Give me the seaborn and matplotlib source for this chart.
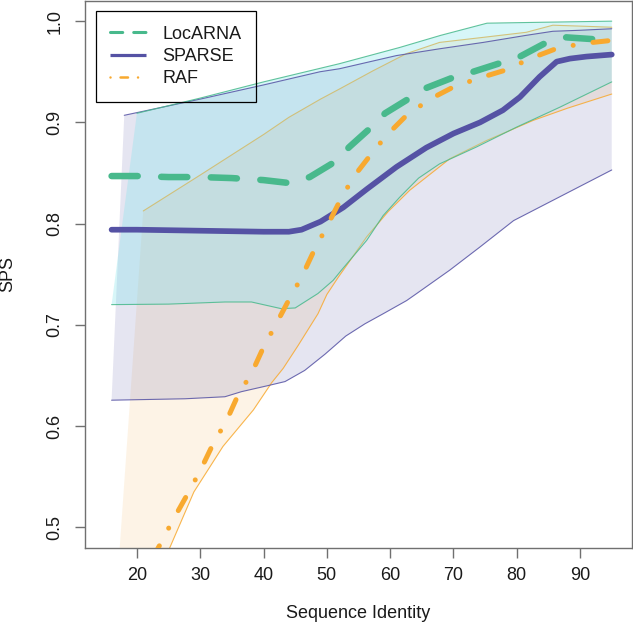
import numpy as np
import pandas as pd
import matplotlib
matplotlib.use("Agg")
import matplotlib.pyplot as plt
import seaborn as sns
from matplotlib.lines import Line2D

# ---------------- data ----------------
methods = ["LocARNA", "SPARSE", "RAF"]

# mean curves
locarna_x = [16, 20, 25, 30, 35, 40, 44.2, 47.3, 51, 53.6, 56.8, 59.2, 63.1, 65.7,
             70.2, 73.1, 77.6, 80.5, 84.7, 87.8, 92.6, 95]
locarna_y = [0.847, 0.847, 0.846, 0.846, 0.845, 0.843, 0.840, 0.846, 0.860, 0.876,
             0.894, 0.909, 0.924, 0.934, 0.945, 0.950, 0.959, 0.965, 0.979, 0.984,
             0.982, 0.982]

sparse_x = [16, 20, 25, 30, 35, 40, 44, 46, 49, 52.6, 56.3, 61, 65.7, 70, 74.2, 77.8,
            80.5, 83.6, 86.3, 88.4, 91, 95]
sparse_y = [0.794, 0.794, 0.7935, 0.793, 0.7925, 0.792, 0.792, 0.794, 0.802, 0.816,
            0.834, 0.856, 0.875, 0.889, 0.900, 0.912, 0.925, 0.945, 0.960, 0.963,
            0.965, 0.967]

raf_x = [16, 20, 24, 25.5, 28.1, 30, 32, 34.2, 36, 38.1, 40, 42, 44.2, 46, 48.1, 50,
         52.1, 54.2, 56.8, 59.4, 62.6, 66.3, 70, 74.2, 78.4, 82.1, 86.3, 90.5, 95]
raf_y = [0.395, 0.441, 0.487, 0.505, 0.534, 0.556, 0.582, 0.606, 0.631, 0.652, 0.678,
         0.701, 0.727, 0.747, 0.775, 0.797, 0.823, 0.846, 0.867, 0.887, 0.907, 0.923,
         0.935, 0.944, 0.952, 0.963, 0.973, 0.978, 0.981]

# band limits
locarna_up_x = [20, 30, 40, 52, 61.5, 68, 75.3, 85, 95]
locarna_up_y = [0.909, 0.924, 0.940, 0.958, 0.974, 0.986, 0.998, 0.999, 1.0]
locarna_lo_x = [16, 25, 33.9, 38.1, 42.8, 45, 48.6, 51, 52.3, 56.3, 58.9, 61.5, 64.5,
                67.8, 73.6, 80, 86.8, 95]
locarna_lo_y = [0.720, 0.7205, 0.7226, 0.7226, 0.716, 0.7167, 0.731, 0.744, 0.754,
                0.7835, 0.808, 0.826, 0.845, 0.859, 0.8756, 0.8954, 0.915, 0.940]

sparse_up_x = [18, 30, 40, 48.9, 52, 61, 67.8, 74.7, 81.5, 85.7, 90, 95]
sparse_up_y = [0.907, 0.923, 0.937, 0.950, 0.953, 0.966, 0.9727, 0.979, 0.986, 0.990,
               0.991, 0.9925]
sparse_lo_x = [16, 27.6, 33.9, 36.5, 40.7, 43.4, 46.5, 49.7, 53, 56, 58.9, 62.6, 64.2,
               69.4, 74.2, 79.5, 85.7, 95]
sparse_lo_y = [0.6256, 0.627, 0.629, 0.634, 0.640, 0.644, 0.655, 0.671, 0.689, 0.701,
               0.711, 0.724, 0.731, 0.754, 0.777, 0.803, 0.823, 0.853]

raf_up_x = [21, 30, 40, 44, 49, 52, 57.3, 62.6, 67.8, 74.7, 81.5, 85.7, 90.5, 95]
raf_up_y = [0.8125, 0.848, 0.888, 0.905, 0.923, 0.933, 0.951, 0.968, 0.979, 0.984,
            0.989, 0.996, 0.995, 0.994]
raf_lo_x = [16, 20, 25.2, 29, 33.6, 38.4, 41.3, 43.1, 45.5, 48.6, 50, 51.8, 56.3, 59.7,
            63.1, 69.4, 75.2, 82.6, 88, 95]
raf_lo_y = [0.365, 0.415, 0.48, 0.535, 0.58, 0.616, 0.643, 0.657, 0.680, 0.711, 0.730,
            0.747, 0.787, 0.812, 0.833, 0.864, 0.882, 0.902, 0.914, 0.928]

x_ticks = [20, 30, 40, 50, 60, 70, 80, 90]
y_ticks = [0.5, 0.6, 0.7, 0.8, 0.9, 1.0]
y_tick_labels = ["0.5", "0.6", "0.7", "0.8", "0.9", "1.0"]

# ---------------- style ----------------
sns.set_theme(style="white")
plt.rcParams["font.family"] = ["Liberation Sans", "DejaVu Sans"]

line_col = {"LocARNA": "#48B98C", "SPARSE": "#5552A4", "RAF": "#F8A92F"}
fill_col = {"RAF": ("#F2B45A", 0.15, 0.9),
            "SPARSE": ("#5552A4", 0.15, 1.0),
            "LocARNA": ("#7DE4EB", 0.30, 1.2)}
edge_z = {"SPARSE": 2.0, "LocARNA": 2.0, "RAF": 1.1}

fig = plt.figure(figsize=(6.33, 6.24), dpi=100)
ax = fig.add_axes([85 / 633, 76 / 624, 547 / 633, 547.5 / 624])

bands = {
    "SPARSE": (sparse_up_x, sparse_up_y, sparse_lo_x, sparse_lo_y),
    "LocARNA": (locarna_up_x, locarna_up_y, locarna_lo_x, locarna_lo_y),
    "RAF": (raf_up_x, raf_up_y, raf_lo_x, raf_lo_y),
}
for m in ["RAF", "SPARSE", "LocARNA"]:
    ux, uy, lx, ly = bands[m]
    px = np.r_[ux, lx[::-1]]
    py = np.r_[uy, ly[::-1]]
    c, a, z = fill_col[m]
    ax.fill(px, py, color=c, alpha=a, lw=0, zorder=z)

for m in ["SPARSE", "LocARNA", "RAF"]:
    ux, uy, lx, ly = bands[m]
    for xx, yy in [(ux, uy), (lx, ly)]:
        df = pd.DataFrame({"x": xx, "y": yy})
        sns.lineplot(data=df, x="x", y="y", ax=ax, color=line_col[m], lw=0.8,
                     estimator=None, sort=False, alpha=0.85, zorder=edge_z[m])

means = {
    "SPARSE": (sparse_x, sparse_y, 4.1, None),
    "LocARNA": (locarna_x, locarna_y, 4.7, (4.0, 3.6)),
    "RAF": (raf_x, raf_y, 3.6, (0.01, 4, 3, 4)),
}
for i, m in enumerate(["SPARSE", "LocARNA", "RAF"]):
    xx, yy, lw, dash = means[m]
    df = pd.DataFrame({"x": xx, "y": yy})
    sns.lineplot(data=df, x="x", y="y", ax=ax, color=line_col[m], lw=lw,
                 estimator=None, sort=False, zorder=4 + i)
    ln = ax.lines[-1]
    ln.set_solid_capstyle("round")
    ln.set_solid_joinstyle("round")
    if dash is not None:
        ln.set_dashes(dash)
        ln.set_dash_capstyle("round")

ax.set_xlim(11.8, 98.2)
ax.set_ylim(0.4796, 1.0204)
ax.set_xticks(x_ticks)
ax.set_xticklabels([str(t) for t in x_ticks])
ax.set_yticks(y_ticks)
ax.set_yticklabels(y_tick_labels, rotation=90, va="center")

spine_col = "#707070"
for s in ax.spines.values():
    s.set_visible(True)
    s.set_color(spine_col)
    s.set_linewidth(1.0)
ax.tick_params(axis="both", direction="out", length=7.2, width=1.0, color=spine_col,
               labelsize=13, labelcolor="#1a1a1a", bottom=True, left=True)
ax.tick_params(axis="x", pad=6.7)
ax.tick_params(axis="y", pad=8.4)
ax.grid(False)

ax.set_xlabel("Sequence Identity", fontsize=13, color="#1a1a1a", va="center")
ax.set_ylabel("SPS", fontsize=13, color="#1a1a1a", va="center")
ax.xaxis.set_label_coords(0.5, -65 / 547.5)
ax.yaxis.set_label_coords(-77 / 547, 0.5)

handles = [
    Line2D([0], [0], color=line_col["LocARNA"], lw=2.2, dashes=(4.0, 3.6),
           dash_capstyle="round"),
    Line2D([0], [0], color=line_col["SPARSE"], lw=2.3, solid_capstyle="butt"),
    Line2D([0], [0], color=line_col["RAF"], lw=1.8, dashes=(0.01, 4, 3, 4),
           dash_capstyle="round"),
]
leg = ax.legend(handles, methods, loc="upper left", fontsize=13, frameon=True,
                fancybox=False, edgecolor="black", facecolor="none", framealpha=1,
                handlelength=2.0, handletextpad=0.9, borderpad=0.8,
                borderaxespad=0.6, labelspacing=0.29)
leg.get_frame().set_linewidth(0.9)
for t in leg.get_texts():
    t.set_color("#1a1a1a")
leg.set_zorder(10)

fig.savefig("out.png", dpi=100)
